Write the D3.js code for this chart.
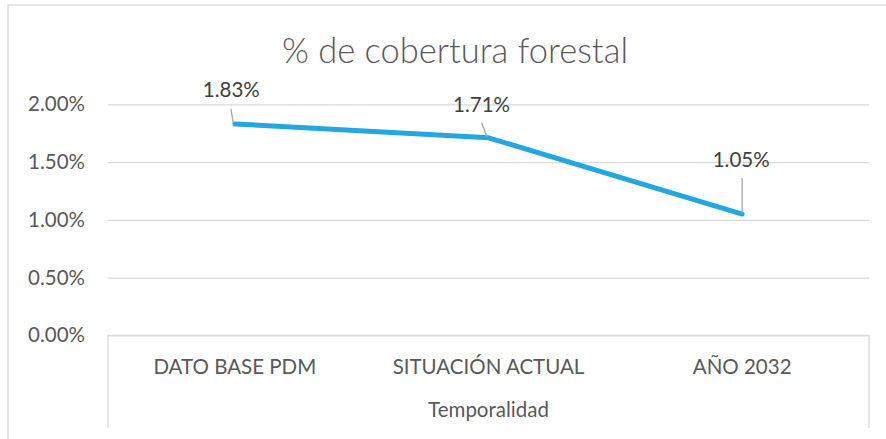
<!DOCTYPE html>
<html lang="es">
<head>
<meta charset="utf-8">
<title>% de cobertura forestal</title>
<script src="https://cdn.jsdelivr.net/npm/d3@7"></script>
<style>
  html, body { margin: 0; padding: 0; background: #fff; }
  svg { display: block; font-family: Lato, "Open Sans", sans-serif; }
</style>
</head>
<body>
<script>
// datos
var categorias = ["DATO BASE PDM", "SITUACIÓN ACTUAL", "AÑO 2032"];
var valores = [0.0183, 0.0171, 0.0105];
var ticksY = [0, 0.005, 0.01, 0.015, 0.02];
var tituloEje = "Temporalidad";

// desplazamiento manual de las etiquetas (como en Excel)
var etiquetaDx = [-3.5, -7, -1];
var etiquetaDy = [-26.5, -26, -47];
var guiaDesde = [[-4, -15], [-7, -15], [0, -36]];

var W = 886, H = 439;
var margin = { left: 108, right: 17, top: 104.3, bottom: 103.7 };

var svg = d3.select("body").append("svg")
    .attr("width", W)
    .attr("height", H);

// marco del grafico
svg.append("rect")
    .attr("x", 8).attr("y", 5)
    .attr("width", W + 20).attr("height", H + 20)
    .attr("fill", "#fff")
    .attr("stroke", "#d9d9d9")
    .attr("stroke-width", 1.3);

var x = d3.scaleBand()
    .domain(categorias)
    .range([margin.left, W - margin.right]);

var y = d3.scaleLinear()
    .domain([0, 0.02])
    .range([H - margin.bottom, margin.top]);

var fmt = d3.format(".2%");

// titulo
svg.append("text")
    .attr("x", 455).attr("y", 63)
    .attr("text-anchor", "middle")
    .attr("font-size", 34.5)
    .attr("font-weight", 300)
    .attr("fill", "#595959")
    .text("% de cobertura forestal");

// rejilla + eje Y
var ejeY = svg.append("g")
    .attr("transform", "translate(" + margin.left + ",0)")
    .call(d3.axisLeft(y).tickValues(ticksY).tickFormat(fmt)
        .tickSize(-(W - margin.left - margin.right)).tickPadding(23));
ejeY.select(".domain").remove();
ejeY.selectAll(".tick line")
    .attr("stroke", "#d9d9d9")
    .attr("stroke-width", 1.3);
ejeY.selectAll(".tick text")
    .attr("font-size", 20.5)
    .attr("font-family", "Lato, 'Open Sans', sans-serif")
    .attr("fill", "#595959");

// eje X con caja de categorias
var y0 = y(0);
var ejeX = svg.append("g");
ejeX.append("path")
    .attr("d", "M" + x.range()[0] + "," + 428 + "V" + y0 + "H" + x.range()[1] + "V" + 428)
    .attr("fill", "none")
    .attr("stroke", "#d9d9d9")
    .attr("stroke-width", 1.3);

ejeX.selectAll(".cat")
    .data(categorias)
    .enter()
    .append("text")
    .attr("class", "cat")
    .attr("x", function (d) { return x(d) + x.bandwidth() / 2; })
    .attr("y", y0 + 39)
    .attr("text-anchor", "middle")
    .attr("font-size", 20.5)
    .attr("fill", "#595959")
    .text(function (d) { return d; });

ejeX.append("text")
    .attr("x", (x.range()[0] + x.range()[1]) / 2)
    .attr("y", y0 + 82)
    .attr("text-anchor", "middle")
    .attr("font-size", 20.5)
    .attr("fill", "#595959")
    .text(tituloEje);

// linea
var puntos = categorias.map(function (c, i) {
    return { cat: c, val: valores[i], i: i };
});

var linea = d3.line()
    .x(function (d) { return x(d.cat) + x.bandwidth() / 2; })
    .y(function (d) { return y(d.val); });

svg.append("path")
    .datum(puntos)
    .attr("d", linea)
    .attr("fill", "none")
    .attr("stroke", "#22a7e0")
    .attr("stroke-width", 5)
    .attr("stroke-linecap", "round")
    .attr("stroke-linejoin", "round");

// lineas guia de etiquetas
svg.selectAll(".guia")
    .data(puntos)
    .enter()
    .append("line")
    .attr("class", "guia")
    .attr("x1", function (d) { return x(d.cat) + x.bandwidth() / 2 + guiaDesde[d.i][0]; })
    .attr("y1", function (d) { return y(d.val) + guiaDesde[d.i][1]; })
    .attr("x2", function (d) { return x(d.cat) + x.bandwidth() / 2 - (d.i === 2 ? 0 : 1.5); })
    .attr("y2", function (d) { return y(d.val) - 1; })
    .attr("stroke", "#a6a6a6")
    .attr("stroke-width", 1.3);

// etiquetas de datos
svg.selectAll(".etiqueta")
    .data(puntos)
    .enter()
    .append("text")
    .attr("class", "etiqueta")
    .attr("x", function (d) { return x(d.cat) + x.bandwidth() / 2 + etiquetaDx[d.i]; })
    .attr("y", function (d) { return y(d.val) + etiquetaDy[d.i]; })
    .attr("text-anchor", "middle")
    .attr("font-size", 20.5)
    .attr("fill", "#404040")
    .text(function (d) { return fmt(d.val); });
</script>
</body>
</html>
